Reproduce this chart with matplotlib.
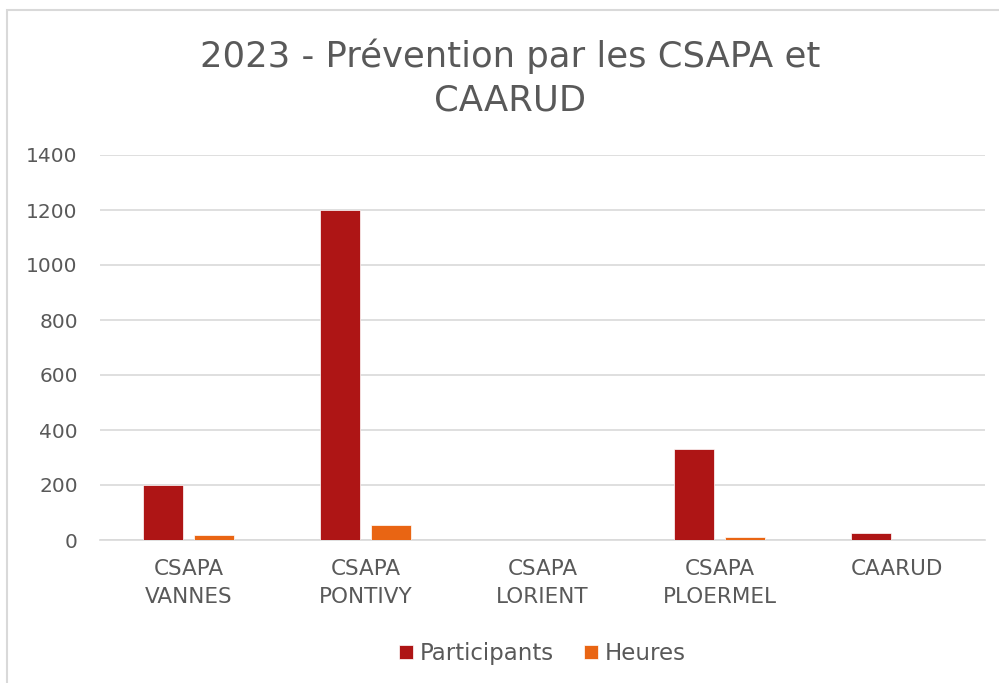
import numpy as np
import matplotlib
matplotlib.use("Agg")
import matplotlib.pyplot as plt
from matplotlib.patches import Rectangle

plt.rcParams['font.family'] = ['DejaVu Sans']

categories = ["CSAPA\nVANNES", "CSAPA\nPONTIVY", "CSAPA\nLORIENT", "CSAPA\nPLOERMEL", "CAARUD"]
participants = [200, 1200, 0, 330, 25]
heures = [18, 53, 0, 11, 0]
yticks = [0, 200, 400, 600, 800, 1000, 1200, 1400]

text_col = "#595959"
grid_col = "#D9D9D9"

fig = plt.figure(figsize=(9.99, 6.83), dpi=100)
# chart border (cut off on the right and bottom like the source)
fig.patches.append(Rectangle((7 / 999, -0.05), 1.1, 1 - 10 / 683 + 0.05,
                             transform=fig.transFigure, fill=False,
                             edgecolor=grid_col, linewidth=1.5))

ax = fig.add_axes([100 / 999, 1 - 540 / 683, 885 / 999, 385 / 683])
x = np.arange(len(categories))
w = 0.226
ax.bar(x - 0.145, participants, w, color="#AE1515", edgecolor="white", linewidth=0.5,
       label="Participants", zorder=3)
ax.bar(x + 0.145, heures, w, color="#E96513", edgecolor="white", linewidth=0.5,
       label="Heures", zorder=3)

ax.set_xlim(-0.5, len(categories) - 0.5)
ax.set_ylim(0, 1400)
ax.set_yticks(yticks)
ax.set_xticks(x)
ax.set_xticklabels(categories, fontsize=15.5, color=text_col, linespacing=1.45)
ax.tick_params(axis='y', labelsize=14.5, labelcolor=text_col, length=0, pad=16)
ax.tick_params(axis='x', length=0, pad=14)
ax.grid(axis='y', color=grid_col, linewidth=1.2, zorder=0)
for s in ["top", "right", "left"]:
    ax.spines[s].set_visible(False)
ax.spines["bottom"].set_color(grid_col)
ax.spines["bottom"].set_linewidth(1.2)

fig.text(510 / 999, 1 - 78 / 683, "2023 - Prévention par les CSAPA et\nCAARUD",
         ha="center", va="center", fontsize=25.5, color=text_col, linespacing=1.35)

ax.legend(loc="center", bbox_to_anchor=(0.5, -0.295), ncol=2, frameon=False,
          fontsize=16.5, labelcolor=text_col, handlelength=0.6, handleheight=0.6,
          handletextpad=0.3, columnspacing=1.3)

fig.savefig("out.png", dpi=100)
